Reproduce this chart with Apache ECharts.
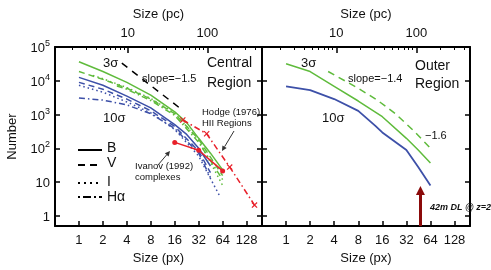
<!DOCTYPE html>
<html><head><meta charset="utf-8">
<script src="https://cdn.jsdelivr.net/npm/echarts@6/dist/echarts.min.js"></script>
<style>html,body{margin:0;padding:0;background:#fff}#c{width:491px;height:270px}</style>
</head><body><div id="c"></div>
<script>
// ---- data (Size in px, Number) ----
const pxTicks = [1, 2, 4, 8, 16, 32, 64, 128];
const pcTicks = [10, 100];
const pcFactorLeft = 2.43;   // pc per px, central region
const pcFactorRight = 2.35;  // pc per px, outer region

// Left (Central Region): 3 sigma (green) and 10 sigma (blue) in B, V, I, Halpha
const L_green_B  = [[1,36600],[2,18800],[4,8980],[8,3770],[16,1210],[22.6,578],[32,198],[45,72],[64,23]];
const L_green_V  = [[1,18800],[2,11000],[4,6010],[8,2880],[16,1060],[32,185],[64,15.6]];
const L_green_I  = [[1.5,14400],[2,11500],[4,6300],[8,3000],[16,1100],[32,173],[64,8]];
const L_green_Ha = [[3,7000],[4,5600],[8,2600],[16,950],[32,150],[64,11.9]];
const L_blue_B   = [[1,12600],[2,7350],[4,3520],[8,1580],[16,505],[22.6,259],[32,101],[45,30]];
const L_blue_V   = [[1,8980],[2,5620],[4,2880],[8,1290],[16,442],[32,83],[45,19]];
const L_blue_I   = [[1,7350],[2,4600],[4,2360],[8,1130],[16,362],[32,59],[58,4.1]];
const L_blue_Ha  = [[1,3080],[2,2690],[4,1930],[8,1060],[16,387],[32,72],[45,13.6]];
const L_slope    = [[3.46,33300],[17.96,1650]];
const ivanov     = [[16,150],[32,88],[64,21.5]];
const hodge      = [[20.2,690],[40.3,270],[78.5,28],[161,2.1]];

// Right (Outer Region)
const R_green_B  = [[1,32000],[2,18800],[4,6880],[8,2520],[16,863],[32,198],[45,89],[64,37]];
const R_fit      = [[3.36,18800],[8,6010],[13.8,2690],[23.3,1060],[39.2,338],[64,101]];
const R_blue_B   = [[1,6880],[2,5260],[4,2880],[8,1290],[13,472],[16,296],[32,89],[45,28],[64,8]];
const dlSize = 48, dlTip = 5.7;

// ---- styles ----
const FONT = "'Liberation Sans', Arial, Helvetica, sans-serif";
const GREEN = '#5fbb3c', BLUE = '#3d50a8', RED = '#e8202a', DKRED = '#8b0a0a';
const DASH = [6,4], DOT = [1.5,3], DASHDOT = [6,3,1.5,3];
const axLine = {show:true, lineStyle:{color:'#000', width:2}};
const tickIn = {show:true, inside:true, length:5, lineStyle:{color:'#000', width:1.5}};

function pxLabel(v){ return pxTicks.indexOf(Math.round(v*1000)/1000) >= 0 ? String(v) : ''; }
function pcLabel(v){ return pcTicks.indexOf(Math.round(v)) >= 0 && Math.abs(v-Math.round(v))<1e-6 ? String(Math.round(v)) : ''; }
function yLabel(v){
  if (v < 0.99) return '';
  const e = Math.round(Math.log10(v));
  if (e === 0) return '{b|1}';
  if (e === 1) return '{b|10}';
  return '{b|10}{s|' + e + '}';
}

function bottomX(g){
  return {gridIndex:g, type:'log', logBase:2, min:0.5, max:200, position:'bottom',
    axisLine:axLine, axisTick:tickIn, splitLine:{show:false}, minorTick:{show:false},
    axisLabel:{formatter:pxLabel, fontSize:13, color:'#111', margin:8, fontFamily:FONT, showMinLabel:false, showMaxLabel:false},
    name:'Size (px)', nameLocation:'middle', nameGap:25, nameTextStyle:{fontSize:13, color:'#111', fontFamily:FONT}};
}
function topX(g, f){
  return {gridIndex:g, type:'log', logBase:10, min:0.5*f, max:200*f, position:'top',
    axisLine:axLine, axisTick:{show:true, inside:true, length:6, lineStyle:{color:'#000', width:1.5}},
    minorTick:{show:true, splitNumber:9, length:3, lineStyle:{color:'#000', width:1}},
    splitLine:{show:false},
    axisLabel:{formatter:pcLabel, fontSize:13, color:'#111', margin:7, fontFamily:FONT, showMinLabel:false, showMaxLabel:false},
    name:'Size (pc)', nameLocation:'middle', nameGap:26, nameTextStyle:{fontSize:13, color:'#111', fontFamily:FONT}};
}
function yAx(g, pos, labels){
  const a = {gridIndex:g, type:'log', logBase:10, min:0.5, max:100000, position:pos,
    axisLine:axLine, axisTick:tickIn, splitLine:{show:false},
    axisLabel:{show:labels, formatter:yLabel, margin:5, color:'#111', fontFamily:FONT,
      rich:{b:{fontSize:13, lineHeight:16, fontFamily:FONT, color:'#111', padding:[3,0,0,0]}, s:{fontSize:9, lineHeight:9, verticalAlign:'top', fontFamily:FONT, color:'#111'}}}};
  if (labels) { a.name='Number'; a.nameLocation='middle'; a.nameGap=36; a.nameTextStyle={fontSize:13, color:'#111', fontFamily:FONT}; }
  return a;
}

function ln(data, color, dash, xi, yi, w){
  return {type:'line', data:data, xAxisIndex:xi, yAxisIndex:yi, showSymbol:false, symbol:'none',
    lineStyle:{color:color, width:w||1.5, type:dash||'solid'}, silent:true, z:2};
}

const series = [
  ln(L_blue_Ha, BLUE, DASHDOT, 0, 0),
  ln(L_blue_I,  BLUE, DOT, 0, 0),
  ln(L_blue_V,  BLUE, DASH, 0, 0),
  ln(L_blue_B,  BLUE, 'solid', 0, 0),
  ln(L_green_Ha, GREEN, DASHDOT, 0, 0),
  ln(L_green_I,  GREEN, DOT, 0, 0),
  ln(L_green_V,  GREEN, DASH, 0, 0),
  ln(L_green_B,  GREEN, 'solid', 0, 0),
  ln(L_slope, '#000', [7,6], 0, 0, 1.5),
  {type:'line', data:ivanov, xAxisIndex:0, yAxisIndex:0, symbol:'circle', symbolSize:5, showSymbol:true,
   itemStyle:{color:RED}, lineStyle:{color:RED, width:1.5}, z:5, silent:true},
  {type:'line', data:hodge, xAxisIndex:0, yAxisIndex:0, showSymbol:true,
   symbol:'path://M0,1.4L1.4,0L5,3.6L8.6,0L10,1.4L6.4,5L10,8.6L8.6,10L5,6.4L1.4,10L0,8.6L3.6,5Z', symbolSize:6,
   itemStyle:{color:RED}, lineStyle:{color:RED, width:1.5, type:[6,3,1.5,3]}, z:5, silent:true},
  ln(R_blue_B, BLUE, 'solid', 1, 2, 1.8),
  ln(R_green_B, GREEN, 'solid', 1, 2, 1.5),
  Object.assign(ln(R_fit, GREEN, [7,5], 1, 2, 1.5), {
    markLine:{silent:true, symbol:['none','triangle'], symbolSize:9, symbolOffset:0,
      lineStyle:{color:DKRED, width:3, type:'solid'}, itemStyle:{color:DKRED}, label:{show:false},
      data:[[{coord:[dlSize,0.5]},{coord:[dlSize,dlTip]}]]}
  })
];

function txt(t, x, y, size, opts){
  return {type:'text', z:20, silent:true,
    style:{text:t, x:x, y:y, font:(opts&&opts.font)||(size+'px '+FONT), fill:'#111', verticalAlign:'middle', align:'left'}};
}
function seg(x1,y1,x2,y2,dash){
  return {type:'line', z:20, silent:true, shape:{x1,y1,x2,y2}, style:{stroke:'#000', lineWidth:2, lineDash:dash||null}};
}
function arrowG(x1,y1,x2,y2,h){
  return [{type:'line', z:20, silent:true, shape:{x1,y1,x2:x2,y2:y2}, style:{stroke:'#333', lineWidth:1}},
          {type:'polygon', z:20, silent:true, shape:{points:h}, style:{fill:'#333'}}];
}

const graphic = [
  txt('3σ', 103, 63, 13), txt('10σ', 103, 118, 13),
  txt('slope=−1.5', 142, 79, 11),
  txt('Central', 207, 63, 14), txt('Region', 207, 83, 14),
  txt('Hodge (1976)', 202, 112, 9.5), txt('HII Regions', 202, 123, 9.5),
  txt('Ivanov (1992)', 135, 166, 9.5), txt('complexes', 135, 177, 9.5),
  seg(78,150,102,150), seg(78,165,102,165,[7,5]), seg(78,183,102,183,[2,4]), seg(78,197,102,197,[2,3,8,3]),
  txt('B', 107, 148, 14), txt('V', 107, 163, 14), txt('I', 107, 182, 14), txt('Hα', 107, 197, 14),
  txt('3σ', 301, 63, 13), txt('10σ', 322, 118, 13),
  txt('slope=−1.4', 348, 79, 11),
  txt('Outer', 415, 66, 14), txt('Region', 415, 84, 14),
  txt('−1.6', 425, 136, 11),
  txt('42m DL @ z=2', 430, 208, 9, {font:'italic bold 9px '+FONT})
].concat(
  arrowG(158,165,166.7,154.8,[[170,151],[168.6,156.4],[164.8,153.2]]),
  arrowG(234,131,224.6,146.7,[[222,151],[226.7,148.0],[222.4,145.4]])
);

const option = {
  animation:false,
  backgroundColor:'#fff',
  textStyle:{fontFamily:FONT},
  grid:[{left:55, top:47, width:207, height:182}, {left:262, top:47, width:208, height:182}],
  xAxis:[bottomX(0), bottomX(1), topX(0, pcFactorLeft), topX(1, pcFactorRight)],
  yAxis:[yAx(0,'left',true), yAx(0,'right',false), yAx(1,'left',false), yAx(1,'right',false)],
  series:series,
  graphic:graphic
};
const chart = echarts.init(document.getElementById('c'), null, {renderer:'canvas'});
chart.setOption(option);
</script></body></html>
